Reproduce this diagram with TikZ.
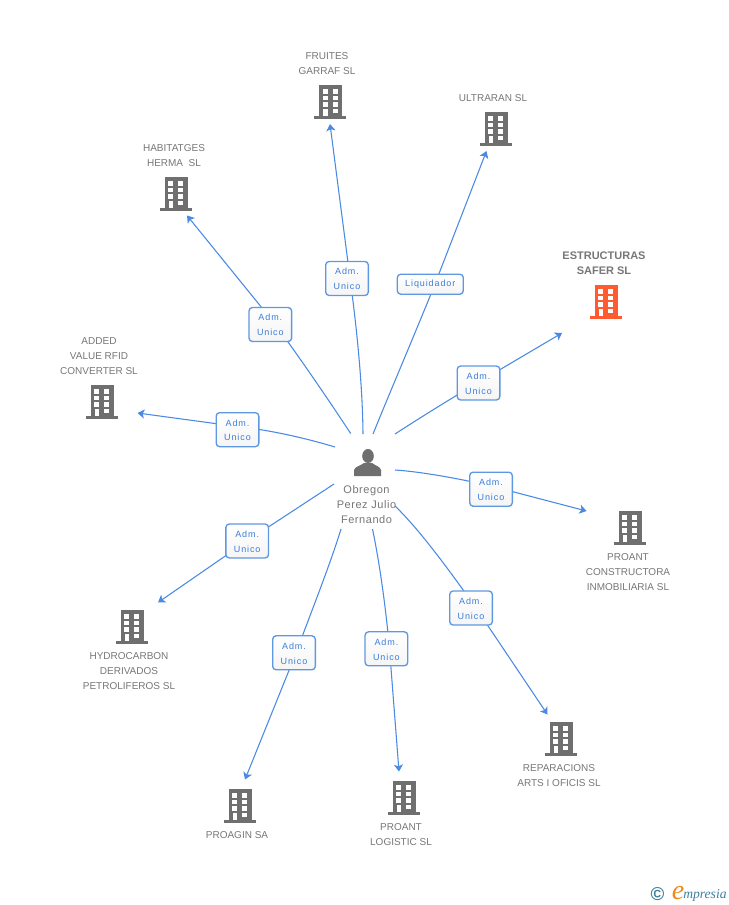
\documentclass[tikz,border=0pt]{standalone}
\usepackage{fontspec}
\setmainfont{Liberation Sans}
\newfontfamily\spaced[LetterSpace=10]{Liberation Sans}
\newfontfamily\spacedp[LetterSpace=5]{Liberation Sans}
\newfontfamily\logofont{Liberation Serif}
\usetikzlibrary{arrows.meta,backgrounds}
\definecolor{linkblue}{HTML}{4A8AE4}
\definecolor{boxblue}{HTML}{5F98E2}
\definecolor{textblue}{HTML}{3B7DD8}
\definecolor{txtgray}{HTML}{777777}
\definecolor{bldgray}{HTML}{6F6F6F}
\definecolor{bldred}{HTML}{FF5A30}
\definecolor{logoteal}{HTML}{3F7F9F}
\definecolor{logoorange}{HTML}{F08A1D}
\newcommand{\admtxt}{\rule{0pt}{5.8pt}Adm.\hspace{2pt}\\Unico}
\tikzset{
  rolebox/.style={draw=boxblue,line width=1pt,rounded corners=2.6pt,top color=white,bottom color=white!96!black,
    text=textblue,font=\spaced\fontsize{6.75pt}{11.1pt}\selectfont,align=center,inner sep=0pt},
  adm/.style={rolebox,minimum width=32pt,minimum height=25.5pt},
  liq/.style={rolebox,minimum width=49.5pt,minimum height=15pt},
  conn/.style={draw=linkblue,line width=0.8pt},
  connarrow/.style={conn,-{Stealth[length=5.2pt,width=6.8pt,inset=1.3pt]}},
  company/.style={text=txtgray,font=\fontsize{7.5pt}{11.25pt}\selectfont,align=center,inner sep=0pt},
  mainco/.style={text=txtgray,font=\bfseries\fontsize{8.25pt}{11.25pt}\selectfont,align=center,inner sep=0pt},
  personlbl/.style={text=txtgray,font=\spacedp\fontsize{8.25pt}{11.25pt}\selectfont,align=center,inner sep=0pt}
}
% building: #1 centre x, #2 top y, #3 colour
\newcommand{\bldg}[3]{%
  \begin{scope}[shift={(#1,#2)}]
    \fill[#3] (-11.5,0) rectangle (11.5,32);
    \fill[#3] (-16,31) rectangle (16,34);
    \foreach \yy in {4.3,10.8,17.3}{
      \fill[white] (-7.8,\yy) rectangle ++(5,4.4);
      \fill[white] (2.2,\yy) rectangle ++(5,4.4);
    }
    \fill[white] (2.2,23.8) rectangle ++(5,4.4);
    \fill[white] (-7.5,23.8) rectangle (-2.8,31.2);
  \end{scope}}
\begin{document}
\begin{tikzpicture}[x=0.75pt,y=-0.75pt]
\useasboundingbox (0,0) rectangle (728,905);
% role labels
\node[adm] (lFru) at (347,278.5) {\admtxt};
\node[liq] (lUlt) at (430.3,284.2) {Liquidador};
\node[adm] (lEst) at (478.5,383) {\admtxt};
\node[adm] (lPco) at (491,489.2) {\admtxt};
\node[adm] (lRep) at (471,608) {\admtxt};
\node[adm] (lLog) at (386.4,648.8) {\admtxt};
\node[adm] (lPra) at (294,652.8) {\admtxt};
\node[adm] (lHyd) at (247.2,541) {\admtxt};
\node[adm] (lAdd) at (237.5,429.7) {\admtxt};
\node[adm] (lHab) at (270.3,324.5) {\admtxt};
% connector ends
\coordinate (sFru) at (363,434); \coordinate (vFru) at (350,278); \coordinate (eFru) at (330,124);
\coordinate (sUlt) at (373,434); \coordinate (vUlt) at (435,284); \coordinate (eUlt) at (486.5,151);
\coordinate (sEst) at (395,434); \coordinate (vEst) at (479,382); \coordinate (eEst) at (562,333);
\coordinate (sPco) at (395,470); \coordinate (vPco) at (491,486); \coordinate (ePco) at (586.5,511);
\coordinate (sRep) at (395,506); \coordinate (vRep) at (476,608); \coordinate (eRep) at (547.5,714.5);
\coordinate (sLog) at (372.5,529); \coordinate (vLog) at (389.5,649); \coordinate (eLog) at (399,771.5);
\coordinate (sPra) at (341,529); \coordinate (vPra) at (296,653); \coordinate (ePra) at (245,779.5);
\coordinate (sHyd) at (334,484); \coordinate (vHyd) at (247,541); \coordinate (eHyd) at (158,602.5);
\coordinate (sAdd) at (335,447); \coordinate (vAdd) at (237,426.5); \coordinate (eAdd) at (137.5,413);
\coordinate (sHab) at (350.7,433.5); \coordinate (vHab) at (275,324); \coordinate (eHab) at (187,215.5);
\begin{scope}[on background layer]
\fill[white] (0,0) rectangle (728,905);
\draw[conn] (sFru) .. controls (362.5,385) and (357,330) .. (vFru);
\draw[connarrow] (vFru) -- (eFru);
\draw[conn] (sUlt) .. controls (390,392) and (414,336) .. (vUlt);
\draw[connarrow] (vUlt) -- (eUlt);
\draw[conn] (sEst) .. controls (415,421) and (450,399) .. (vEst);
\draw[connarrow] (vEst) -- (eEst);
\draw[conn] (sPco) .. controls (425,472) and (465,480) .. (vPco);
\draw[connarrow] (vPco) -- (ePco);
\draw[conn] (sRep) .. controls (420,530) and (452,574) .. (vRep);
\draw[connarrow] (vRep) -- (eRep);
\draw[conn] (sLog) .. controls (380,565) and (386,610) .. (vLog);
\draw[connarrow] (vLog) -- (eLog);
\draw[conn] (sPra) .. controls (330,565) and (310,615) .. (vPra);
\draw[connarrow] (vPra) -- (ePra);
\draw[conn] (sHyd) -- (vHyd);
\draw[connarrow] (vHyd) -- (eHyd);
\draw[conn] (sAdd) .. controls (305,438) and (270,430) .. (vAdd);
\draw[connarrow] (vAdd) -- (eAdd);
\draw[conn] (sHab) .. controls (330,402) and (300,358) .. (vHab);
\draw[connarrow] (vHab) -- (eHab);
\end{scope}
% buildings
\bldg{330.4}{85}{bldgray}
\bldg{496}{112}{bldgray}
\bldg{606}{285}{bldred}
\bldg{630}{511}{bldgray}
\bldg{561}{722}{bldgray}
\bldg{404}{781}{bldgray}
\bldg{240}{789}{bldgray}
\bldg{132}{610}{bldgray}
\bldg{102}{385}{bldgray}
\bldg{176}{177}{bldgray}
% company names
\node[company] (nFru) at (327,63.8) {FRUITES\\GARRAF SL};
\node[company] (nUlt) at (493,98.3) {ULTRARAN SL};
\node[mainco] (nEst) at (604,263) {ESTRUCTURAS\\SAFER SL};
\node[company] (nPco) at (628,572.3) {PROANT\\CONSTRUCTORA\\INMOBILIARIA SL};
\node[company] (nRep) at (559,775.8) {REPARACIONS\\ARTS I OFICIS SL};
\node[company] (nLog) at (401,834.8) {PROANT\\LOGISTIC SL};
\node[company] (nPra) at (237,835.3) {PROAGIN SA};
\node[company] (nHyd) at (129,671.3) {HYDROCARBON\\DERIVADOS\\PETROLIFEROS SL};
\node[company] (nAdd) at (99,356.3) {ADDED\\VALUE RFID\\CONVERTER SL};
\node[company] (nHab) at (174,155.8) {HABITATGES\\HERMA~~SL};
% person
\fill[bldgray] (368,456) circle[x radius=5.8,y radius=7];
\fill[bldgray] (354,476) -- (354,470) .. controls (355,466.5) and (360,466) .. (364,463) -- (372,463) .. controls (376,466) and (380,466.5) .. (381,470) -- (381,476) -- cycle;
\node[personlbl] (nPer) at (366.5,505) {Obregon\\Perez Julio\\Fernando};
% logo
\node[inner sep=0pt,text=logoteal,font=\bfseries\fontsize{14pt}{14pt}\selectfont] (logoC) at (657.5,894) {©};
\node[inner sep=0pt,text=logoorange,font=\logofont\itshape\fontsize{21pt}{21pt}\selectfont] (logoE) at (678,893) {e};
\node[inner sep=0pt,anchor=west,text=logoteal,font=\logofont\itshape\fontsize{10.2pt}{11pt}\selectfont] (logoT) at (683,895) {mpresia};
\end{tikzpicture}
\end{document}
